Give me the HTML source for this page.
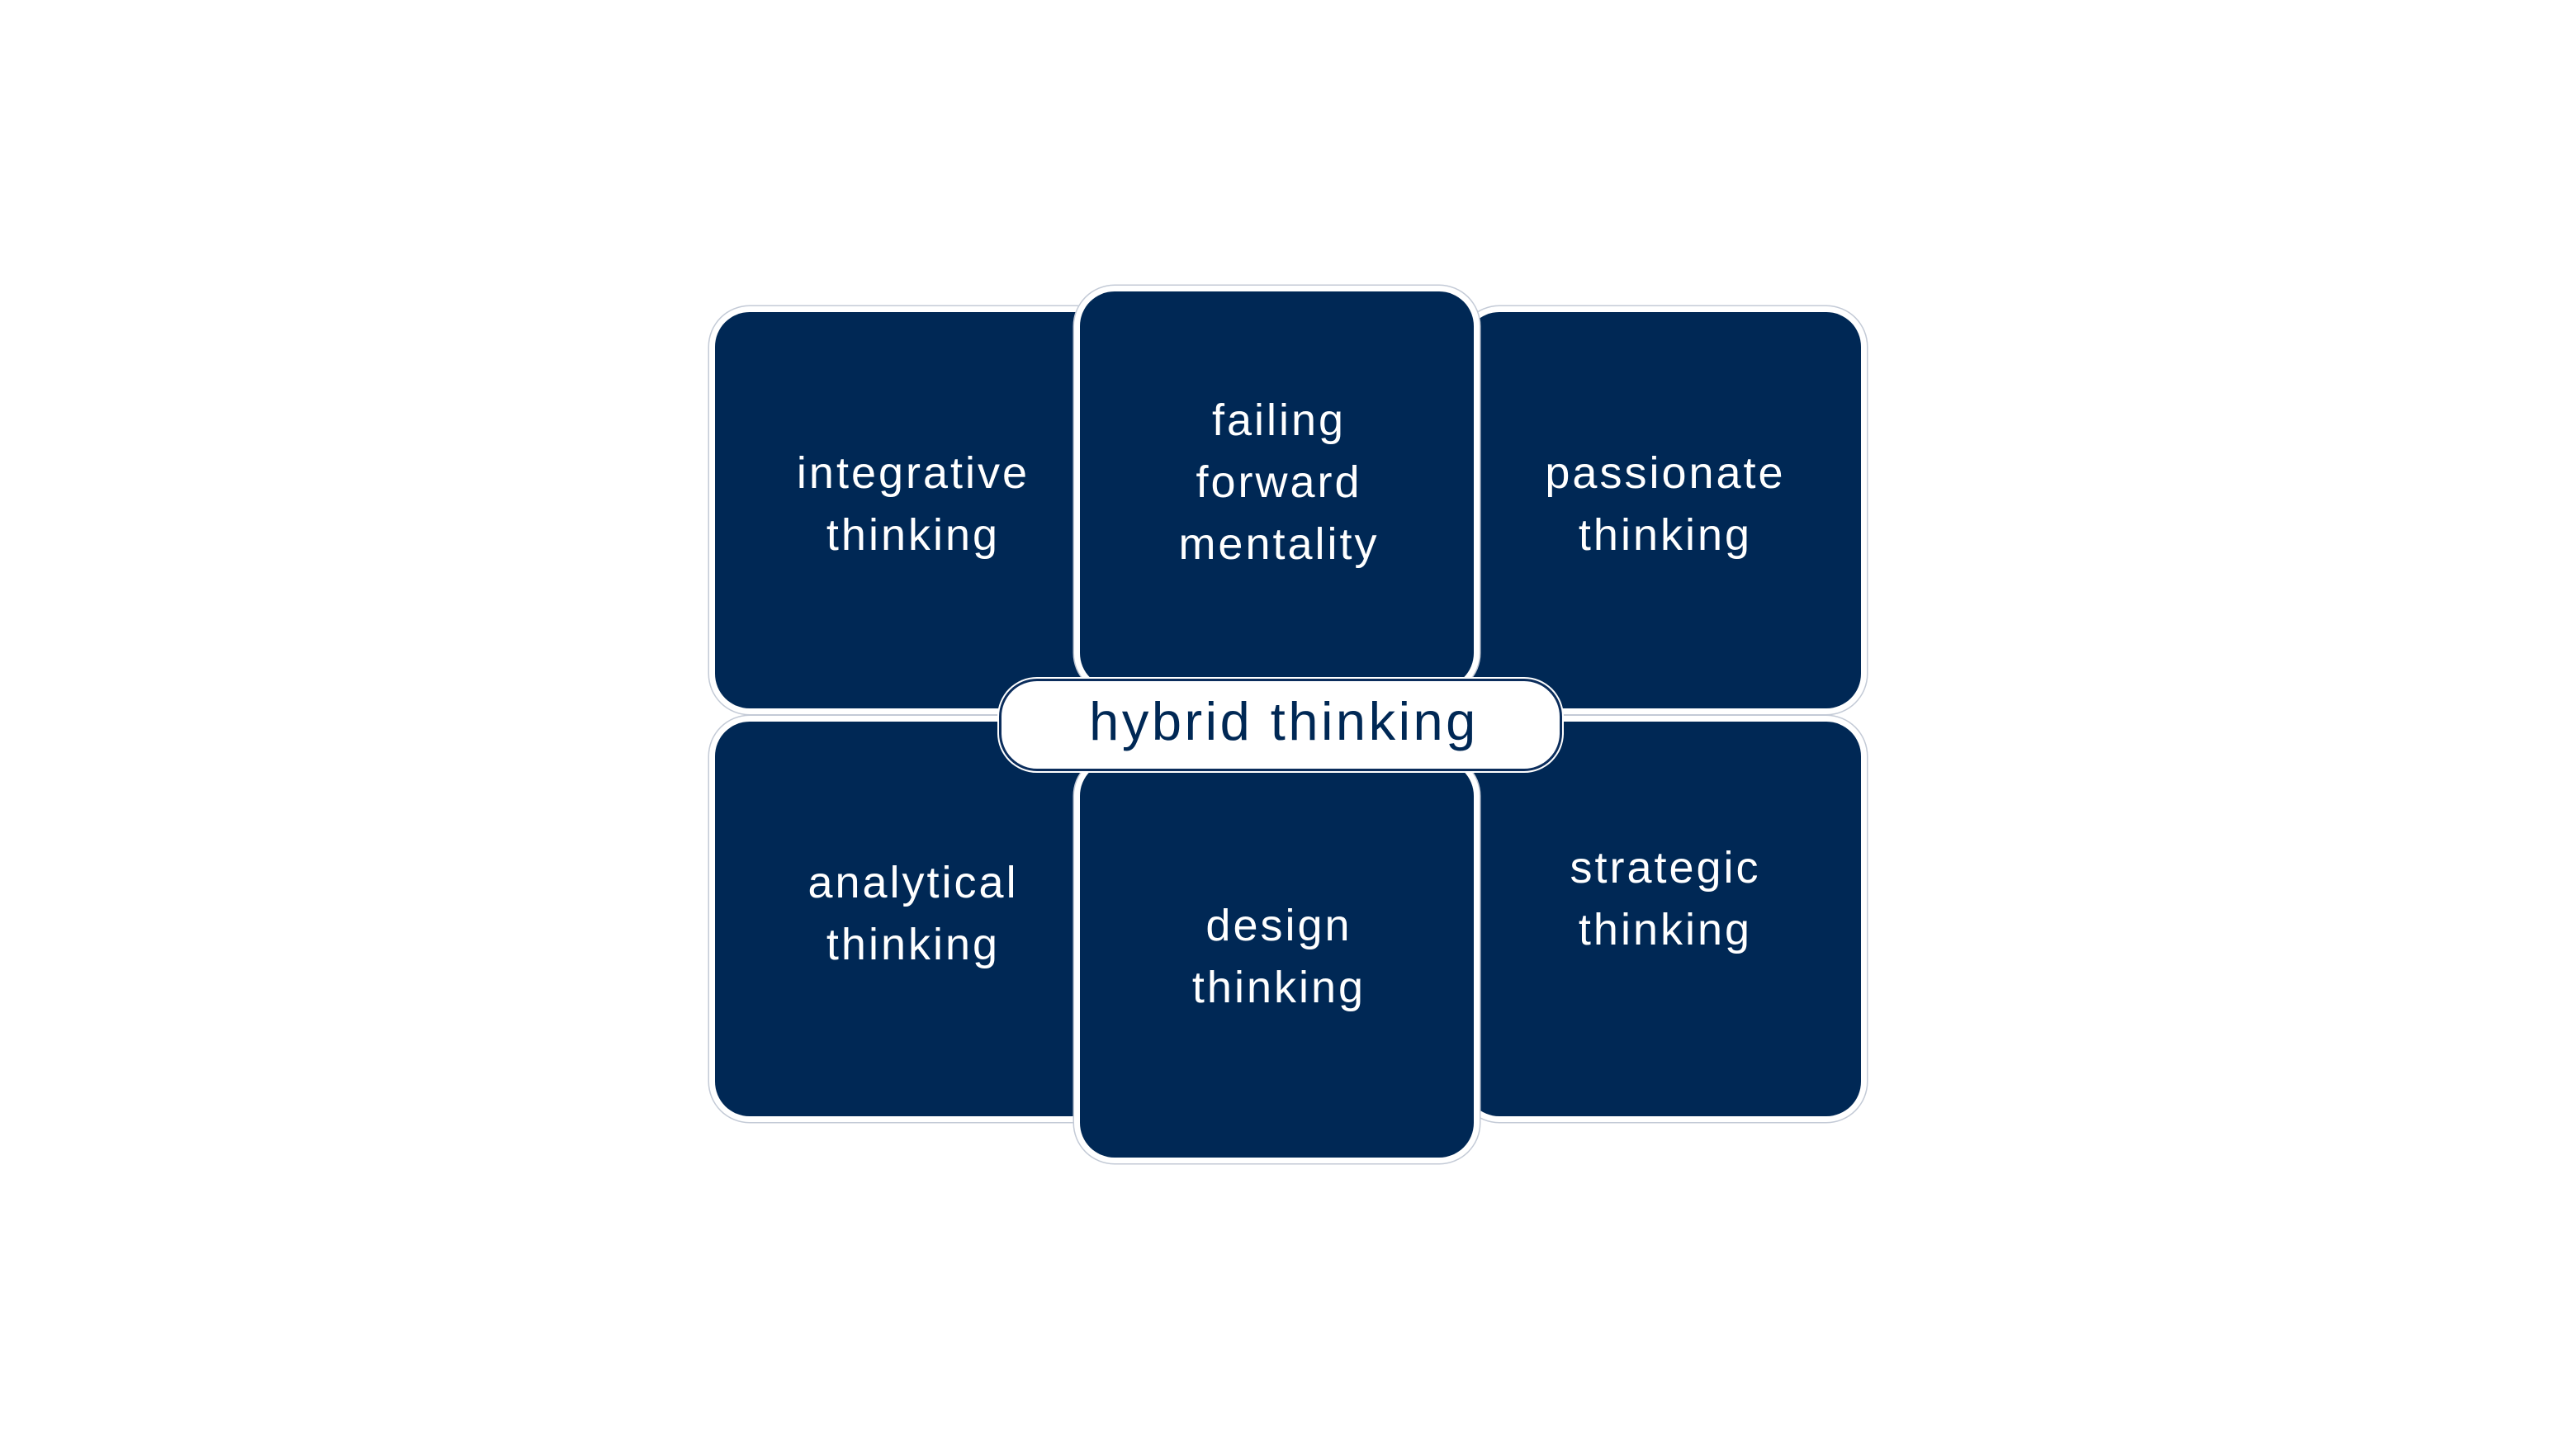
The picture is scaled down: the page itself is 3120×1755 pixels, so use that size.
<!DOCTYPE html>
<html><head><style>
html,body{margin:0;padding:0;background:#fff;}
body{width:3120px;height:1755px;position:relative;overflow:hidden;font-family:"Liberation Sans",sans-serif;}
.b{position:absolute;background:#002855;border-radius:42px;box-shadow:0 0 0 7px #fff,0 0 0 8.5px #c3cad6;}
.t{position:absolute;color:#fff;font-size:54px;letter-spacing:3px;text-align:center;line-height:75px;transform:translateX(-50%);white-space:nowrap;}
.pill{position:absolute;left:1210px;top:822px;width:682px;height:112px;box-sizing:border-box;background:#fff;border:3px solid #0b2d5c;border-radius:46px;box-shadow:0 0 0 2px #fff;}
.h{position:absolute;left:1555px;top:838px;transform:translateX(-50%);font-size:65px;letter-spacing:3.5px;color:#002855;white-space:nowrap;line-height:72px;}
</style></head><body>
<div class="b" style="left:866px;top:378px;width:480px;height:480px"></div>
<div class="b" style="left:1774px;top:378px;width:480px;height:480px"></div>
<div class="b" style="left:866px;top:874px;width:480px;height:478px"></div>
<div class="b" style="left:1774px;top:874px;width:480px;height:478px"></div>
<div class="b" style="left:1308px;top:353px;width:477px;height:480px"></div>
<div class="b" style="left:1308px;top:922px;width:477px;height:480px"></div>
<div class="pill"></div>
<div class="t" style="left:1106px;top:536px">integrative<br>thinking</div>
<div class="t" style="left:1549px;top:472px">failing<br>forward<br>mentality</div>
<div class="t" style="left:2017px;top:536px">passionate<br>thinking</div>
<div class="t" style="left:1106px;top:1032px">analytical<br>thinking</div>
<div class="t" style="left:1549px;top:1084px">design<br>thinking</div>
<div class="t" style="left:2017px;top:1014px">strategic<br>thinking</div>
<div class="h">hybrid thinking</div>
</body></html>
